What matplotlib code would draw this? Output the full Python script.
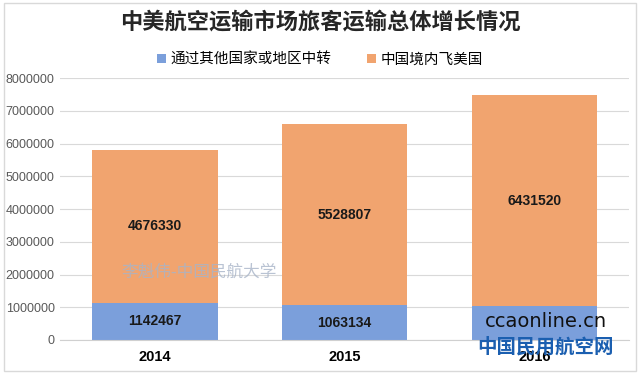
import numpy as np
from matplotlib import pyplot as plt
from matplotlib.patches import Rectangle

plt.rcParams['font.family'] = ['Noto Sans CJK SC', 'DejaVu Sans']

years = ["2014", "2015", "2016"]
transfer = [1142467, 1063134, 1040000]
direct = [4676330, 5528807, 6431520]
yticks = [0, 1000000, 2000000, 3000000, 4000000, 5000000, 6000000, 7000000, 8000000]

blue = "#7b9fdb"
orange = "#f1a46f"

fig = plt.figure(figsize=(6.4, 3.74), dpi=100)
fig.patches.append(Rectangle((0.006, 0.008), 0.988, 0.984, transform=fig.transFigure,
                             fill=False, edgecolor="#d9d9d9", lw=1))
ax = fig.add_axes([0.094, 0.091, 0.889, 0.70])

x = np.arange(len(years))
ax.bar(x, transfer, width=0.66, color=blue, label="通过其他国家或地区中转", zorder=2)
ax.bar(x, direct, width=0.66, bottom=transfer, color=orange, label="中国境内飞美国", zorder=2)

for i in range(len(years)):
    if i < 2:
        ax.text(x[i], transfer[i] / 2, str(transfer[i]), ha="center", va="center",
                fontsize=10, fontweight="bold", color="#1a1a1a",
                family="Liberation Sans", zorder=3)
    ax.text(x[i], transfer[i] + direct[i] / 2, str(direct[i]), ha="center", va="center",
            fontsize=10, fontweight="bold", color="#1a1a1a",
            family="Liberation Sans", zorder=3)

ax.set_ylim(0, 8000000)
ax.set_xlim(-0.5, 2.5)
ax.set_yticks(yticks)
ax.set_yticklabels([str(v) for v in yticks], fontsize=9, color="#595959", family="Liberation Sans")
ax.set_xticks(x)
ax.set_xticklabels(years, fontsize=10.5, fontweight="bold", family="Liberation Sans")
ax.tick_params(length=0, pad=7)
ax.tick_params(axis="y", pad=4)
ax.grid(axis="y", color="#d9d9d9", lw=0.8, zorder=0)
for s in ["top", "right", "left"]:
    ax.spines[s].set_visible(False)
ax.spines["bottom"].set_color("#d0d0d0")

fig.text(0.5, 0.94, "中美航空运输市场旅客运输总体增长情况", ha="center", va="center",
         fontsize=16, fontweight="bold", color="#262626")
fig.legend(loc="center", bbox_to_anchor=(0.5, 0.84), ncol=2, frameon=False,
           fontsize=10.5, handlelength=0.6, handleheight=0.6, columnspacing=2.5, handletextpad=0.3)

# watermarks
fig.text(0.19, 0.26, "李魁伟-中国民航大学", fontsize=12, color="#a8b4c8", alpha=0.8,
         family=["Noto Sans CJK SC"], zorder=5)
fig.text(0.853, 0.125, "ccaonline.cn", ha="center", fontsize=14, color="#111111",
         family="DejaVu Sans", zorder=5)
fig.text(0.853, 0.058, "中国民用航空网", ha="center", fontsize=14, color="#1b5fb0",
         fontweight="bold", zorder=5)

fig.savefig("out.png", dpi=100)
